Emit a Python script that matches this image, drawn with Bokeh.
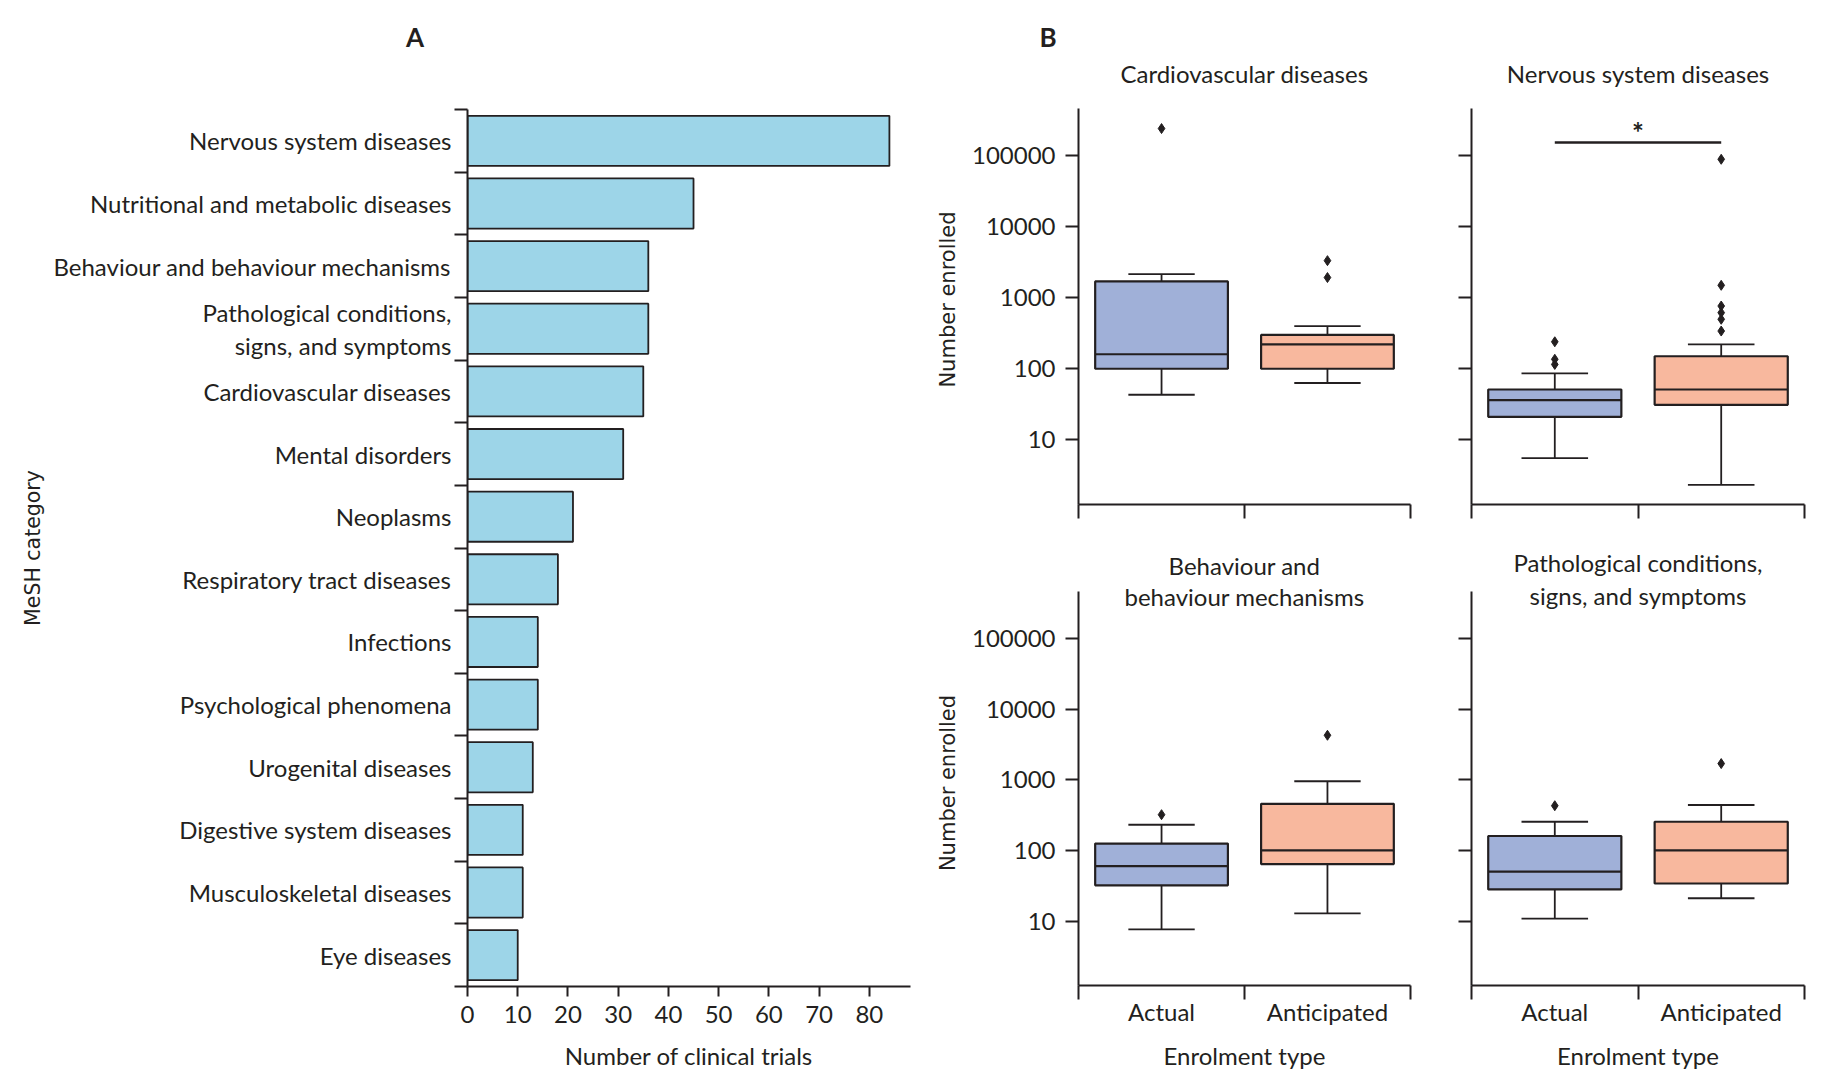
import math
from bokeh.plotting import figure
from bokeh.layouts import row, column
from bokeh.models import Range1d, FixedTicker, NumeralTickFormatter, Label, ColumnDataSource
from bokeh.embed import file_html
from bokeh.resources import INLINE

# ---------------- data ----------------
categories = [
    "Nervous system diseases",
    "Nutritional and metabolic diseases",
    "Behaviour and behaviour mechanisms",
    "Pathological conditions,\nsigns, and symptoms",
    "Cardiovascular diseases",
    "Mental disorders",
    "Neoplasms",
    "Respiratory tract diseases",
    "Infections",
    "Psychological phenomena",
    "Urogenital diseases",
    "Digestive system diseases",
    "Musculoskeletal diseases",
    "Eye diseases",
]
trial_counts = [84, 45, 36, 36, 35, 31, 21, 18, 14, 14, 13, 11, 11, 10]
count_ticks = [0, 10, 20, 30, 40, 50, 60, 70, 80]

enrolment_types = ["Actual", "Anticipated"]
enrolled_ticks = [10, 100, 1000, 10000, 100000]

cardio_title = "Cardiovascular diseases"
cardio_low = [43, 63]
cardio_q1 = [100, 100]
cardio_median = [160, 220]
cardio_q3 = [1700, 300]
cardio_high = [2150, 400]
cardio_outliers = [[243000], [1930, 3340]]

nervous_title = "Nervous system diseases"
nervous_low = [5.5, 2.3]
nervous_q1 = [21, 31]
nervous_median = [36, 51]
nervous_q3 = [51, 150]
nervous_high = [86, 220]
nervous_outliers = [[115, 136, 240], [340, 498, 617, 766, 1500, 89700]]
nervous_significance = 155000

behaviour_title = ["Behaviour and", "behaviour mechanisms"]
behaviour_low = [7.6, 12.8]
behaviour_q1 = [32, 64]
behaviour_median = [60, 100]
behaviour_q3 = [125, 457]
behaviour_high = [231, 955]
behaviour_outliers = [[321], [4280]]

patho_title = ["Pathological conditions,", "signs, and symptoms"]
patho_low = [10.8, 21]
patho_q1 = [28, 34]
patho_median = [50, 100]
patho_q3 = [160, 255]
patho_high = [255, 440]
patho_outliers = [[430], [1700]]

# ---------------- style ----------------
INK = "#231F20"
FONT = "Lato"
AXFONT = "DejaVu Sans"
FS = "24px"
BAR = "#9DD5E8"
BOX_COLORS = ["#A0B0D8", "#F8B89E"]
Y_MIN, Y_MAX = 1.22, 466000
SPAN = math.log10(Y_MAX) - math.log10(Y_MIN)

# layout geometry (pixels)
HEAD_H = 94
A_W = 920
BCOL_W = 899
MID_H = 56
TOP_EXTRA = 14
BOTTOM_EXTRA = 11


def style_common(p):
    p.grid.visible = False
    p.outline_line_color = None
    for ax in p.axis:
        ax.axis_line_color = INK
        ax.axis_line_width = 2
        ax.major_tick_line_color = INK
        ax.major_tick_line_width = 2
        ax.minor_tick_line_color = INK
        ax.minor_tick_line_width = 2
        ax.major_label_text_font = FONT
        ax.major_label_text_font_size = FS
        ax.major_label_text_color = INK
        ax.axis_label_text_font_style = "normal"
        ax.axis_label_text_color = INK


def text_strip(w, h):
    p = figure(width=w, height=h, min_border=0, x_range=Range1d(0, w), y_range=Range1d(h, 0),
               x_axis_location=None, y_axis_location=None,
               output_backend="svg", toolbar_location=None, title=None)
    p.outline_line_color = None
    p.grid.visible = False
    return p


def add_text(p, x, y, text, size=FS, bold=False):
    p.add_layout(Label(x=x, y=y, text=text, text_font=FONT, text_font_size=size,
                       text_font_style="bold" if bold else "normal", text_color=INK,
                       text_align="center", text_baseline="middle"))


# ---------------- header strip (panel letters + top titles) ----------------
head = text_strip(A_W + BCOL_W, HEAD_H)
add_text(head, 414.5, 36, "A", size="26px", bold=True)
add_text(head, 1047.5, 36, "B", size="26px", bold=True)
add_text(head, 1244, 73, cardio_title)
add_text(head, 1637.5, 73, nervous_title)

# ---------------- panel A ----------------
n = len(categories)
pos = [i + 0.5 for i in range(n)]
pA = figure(frame_width=443, frame_height=877,
            min_border_left=467, min_border_right=10, min_border_top=109 - HEAD_H,
            min_border_bottom=94,
            x_range=Range1d(0, 88.2), y_range=Range1d(n + 0.0005, -0.0005),
            output_backend="svg", toolbar_location=None, title=None)
srcA = ColumnDataSource(dict(y=pos, right=trial_counts))
pA.hbar(y="y", left=0, right="right", height=0.8, source=srcA,
        fill_color=BAR, line_color=INK, line_width=1.8)
style_common(pA)
pA.yaxis.bounds = (0, n)
pA.yaxis.ticker = FixedTicker(ticks=pos, minor_ticks=list(range(n + 1)))
pA.yaxis.major_label_overrides = {p_: c for p_, c in zip(pos, categories)}
pA.yaxis.major_tick_out = 0
pA.yaxis.major_tick_in = 0
pA.yaxis.minor_tick_out = 13
pA.yaxis.minor_tick_in = 0
pA.yaxis.major_label_standoff = 3
pA.yaxis.major_label_text_line_height = 1.12
pA.yaxis.axis_label = "MeSH category"
pA.yaxis.axis_label_text_font = AXFONT
pA.yaxis.axis_label_text_font_size = "20.5px"
pA.yaxis.axis_label_standoff = 5
pA.xaxis.ticker = FixedTicker(ticks=count_ticks, minor_ticks=[])
pA.xaxis.major_tick_out = 10
pA.xaxis.major_tick_in = 0
pA.xaxis.major_label_standoff = 9
pA.xaxis.axis_label = "Number of clinical trials"
pA.xaxis.axis_label_text_font = FONT
pA.xaxis.axis_label_text_font_size = FS
pA.xaxis.axis_label_standoff = 15


# ---------------- panel B ----------------
def box_panel(lows, q1s, meds, q3s, highs, outliers,
              left_labels, bottom_labels, mbl, mbr, mbb, fw, fh, extra):
    ppd = fh / SPAN
    y_top = 10 ** (math.log10(Y_MAX) + extra / ppd)
    p = figure(frame_width=fw, frame_height=fh + extra, y_axis_type="log",
               min_border_left=mbl, min_border_right=mbr, min_border_top=0, min_border_bottom=mbb,
               x_range=Range1d(-0.0005, 2.0005), y_range=Range1d(Y_MIN, y_top),
               output_backend="svg", toolbar_location=None, title=None)
    xs = [0.5, 1.5]
    p.segment(x0=xs, y0=q3s, x1=xs, y1=highs, line_color=INK, line_width=1.8)
    p.segment(x0=xs, y0=lows, x1=xs, y1=q1s, line_color=INK, line_width=1.8)
    p.segment(x0=[x - 0.2 for x in xs], y0=highs, x1=[x + 0.2 for x in xs], y1=highs,
              line_color=INK, line_width=1.8)
    p.segment(x0=[x - 0.2 for x in xs], y0=lows, x1=[x + 0.2 for x in xs], y1=lows,
              line_color=INK, line_width=1.8)
    p.quad(left=[x - 0.4 for x in xs], right=[x + 0.4 for x in xs], bottom=q1s, top=q3s,
           fill_color=BOX_COLORS, line_color=INK, line_width=2.2)
    p.segment(x0=[x - 0.4 for x in xs], y0=meds, x1=[x + 0.4 for x in xs], y1=meds,
              line_color=INK, line_width=2.2)
    ox, oy = [], []
    for x, outs in zip(xs, outliers):
        for v in outs:
            ox.append(x)
            oy.append(v)
    p.scatter(x=ox, y=oy, marker="diamond", size=10, fill_color=INK, line_color=INK)
    style_common(p)
    p.yaxis.bounds = (Y_MIN, Y_MAX)
    if left_labels:
        p.yaxis.ticker = FixedTicker(ticks=enrolled_ticks, minor_ticks=[])
        p.yaxis.formatter = NumeralTickFormatter(format="0")
        p.yaxis.major_tick_out = 13
        p.yaxis.major_tick_in = 0
        p.yaxis.major_label_standoff = 10
        p.yaxis.axis_label = "Number enrolled"
        p.yaxis.axis_label_text_font = AXFONT
        p.yaxis.axis_label_text_font_size = "21px"
        p.yaxis.axis_label_standoff = 9
    else:
        p.yaxis.ticker = FixedTicker(ticks=[], minor_ticks=enrolled_ticks)
        p.yaxis.minor_tick_out = 13
        p.yaxis.minor_tick_in = 0
    if bottom_labels:
        p.xaxis.ticker = FixedTicker(ticks=xs, minor_ticks=[0, 1, 2])
        p.xaxis.major_label_overrides = {x: t for x, t in zip(xs, enrolment_types)}
        p.xaxis.major_tick_out = 0
        p.xaxis.major_tick_in = 0
        p.xaxis.major_label_standoff = -3
        p.xaxis.axis_label = "Enrolment type"
        p.xaxis.axis_label_text_font = FONT
        p.xaxis.axis_label_text_font_size = FS
        p.xaxis.axis_label_standoff = 12
    else:
        p.xaxis.ticker = FixedTicker(ticks=[], minor_ticks=[0, 1, 2])
    p.xaxis.minor_tick_out = 14
    p.xaxis.minor_tick_in = 0
    return p, ppd


pB1, _ = box_panel(cardio_low, cardio_q1, cardio_median, cardio_q3, cardio_high, cardio_outliers,
                   True, False, 158, 30, 20, 332, 396, TOP_EXTRA)
pB2, ppd2 = box_panel(nervous_low, nervous_q1, nervous_median, nervous_q3, nervous_high,
                      nervous_outliers, False, False, 31, 15, 20, 333, 396, TOP_EXTRA)
pB2.segment(x0=[0.5], y0=[nervous_significance], x1=[1.5], y1=[nervous_significance],
            line_color=INK, line_width=2.5)
pB2.add_layout(Label(x=1.0, y=nervous_significance * 10 ** (10 / ppd2), text="*", text_font=FONT,
                     text_font_style="bold", text_font_size="28px", text_color=INK,
                     text_align="center", text_baseline="middle"))

pB3, ppd3 = box_panel(behaviour_low, behaviour_q1, behaviour_median, behaviour_q3, behaviour_high,
                      behaviour_outliers, True, True, 158, 30, 95, 332, 394, BOTTOM_EXTRA)
pB4, ppd4 = box_panel(patho_low, patho_q1, patho_median, patho_q3, patho_high, patho_outliers,
                      False, True, 31, 15, 95, 333, 394, BOTTOM_EXTRA)

# two-line titles of the lower panels: first line in the strip above, second inside the frame
mid = text_strip(BCOL_W, MID_H)
add_text(mid, 324, 41, behaviour_title[0])
add_text(mid, 717.5, 38, patho_title[0])
pB3.add_layout(Label(x=1.0, y=10 ** (math.log10(Y_MAX) - 5 / ppd3), text=behaviour_title[1],
                     text_font=FONT, text_font_size=FS, text_color=INK,
                     text_align="center", text_baseline="middle"))
pB4.add_layout(Label(x=1.0, y=10 ** (math.log10(Y_MAX) - 4 / ppd4), text=patho_title[1],
                     text_font=FONT, text_font_size=FS, text_color=INK,
                     text_align="center", text_baseline="middle"))

layout = column(head, row(pA, column(row(pB1, pB2), mid, row(pB3, pB4))))

open("out.html", "w").write(file_html(layout, INLINE))
